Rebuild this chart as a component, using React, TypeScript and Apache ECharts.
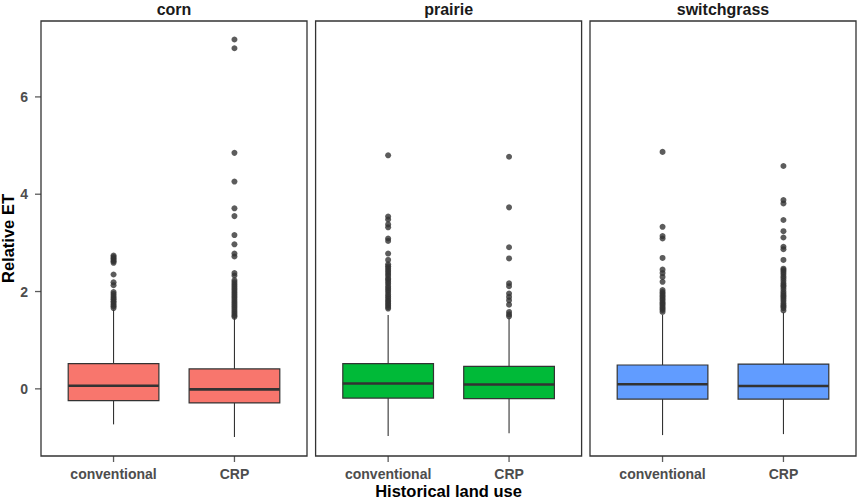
import React, { useEffect, useRef } from "react";
import * as echarts from "echarts";

const panels = ["corn", "prairie", "switchgrass"];
const categories = ["conventional", "CRP"];
const categoryPositions = [1, 2];
const panelColors = ["#F8766D", "#00BA38", "#619CFF"];
const yTicks = [0, 2, 4, 6];

// [lower whisker, Q1, median, Q3, upper whisker]
const cornBoxes = [
  [-0.73, -0.24, 0.065, 0.52, 1.63],
  [-0.99, -0.29, -0.01, 0.41, 1.47],
];
const prairieBoxes = [
  [-0.97, -0.19, 0.11, 0.52, 1.52],
  [-0.91, -0.2, 0.09, 0.46, 1.45],
];
const switchgrassBoxes = [
  [-0.95, -0.21, 0.095, 0.49, 1.52],
  [-0.93, -0.21, 0.06, 0.51, 1.57],
];

const cornConvOutliers = [2.74, 2.71, 2.68, 2.65, 2.62, 2.59, 2.35, 2.19, 2.13, 1.99, 1.95, 1.91, 1.87, 1.84, 1.8, 1.77, 1.73, 1.7, 1.66];
const cornCrpOutliers = [7.18, 7.0, 4.85, 4.26, 3.71, 3.55, 3.16, 2.97, 2.78, 2.72, 2.38, 2.33, 2.23, 2.19, 2.15, 2.11, 2.07, 2.03, 1.99, 1.95, 1.91, 1.87, 1.83, 1.79, 1.75, 1.71, 1.67, 1.63, 1.59, 1.55, 1.51, 1.48];
const prairieConvOutliers = [4.8, 3.54, 3.48, 3.38, 3.32, 3.09, 3.04, 2.78, 2.65, 2.56, 2.52, 2.48, 2.44, 2.4, 2.36, 2.32, 2.27, 2.24, 2.2, 2.16, 2.11, 2.07, 2.03, 1.99, 1.94, 1.9, 1.86, 1.82, 1.79, 1.75, 1.72, 1.68, 1.65];
const prairieCrpOutliers = [4.77, 3.73, 2.91, 2.68, 2.17, 2.11, 1.96, 1.89, 1.82, 1.73, 1.58, 1.53, 1.49];
const switchgrassConvOutliers = [4.87, 3.33, 3.14, 3.09, 2.69, 2.45, 2.38, 2.3, 2.2, 2.03, 1.99, 1.96, 1.92, 1.89, 1.85, 1.82, 1.78, 1.75, 1.72, 1.68, 1.65, 1.62, 1.58];
const switchgrassCrpOutliers = [4.58, 3.88, 3.81, 3.47, 3.24, 3.11, 2.92, 2.87, 2.65, 2.47, 2.44, 2.4, 2.36, 2.31, 2.27, 2.22, 2.17, 2.13, 2.1, 2.05, 2.0, 1.96, 1.92, 1.89, 1.85, 1.81, 1.76, 1.72, 1.69, 1.66, 1.61];

const FONT = "'Liberation Sans', Arial, Helvetica, sans-serif";
const Y_MIN = -1.38;
const Y_MAX = 7.56;
const X_MIN = 0.4;
const X_MAX = 2.6;

export default function App() {
  const ref = useRef<HTMLDivElement>(null);

  useEffect(() => {
    if (!ref.current) return;
    const chart = echarts.init(ref.current, null, { renderer: "svg" });

    const boxes = [cornBoxes, prairieBoxes, switchgrassBoxes];
    const outliers = [
      [cornConvOutliers, cornCrpOutliers],
      [prairieConvOutliers, prairieCrpOutliers],
      [switchgrassConvOutliers, switchgrassCrpOutliers],
    ];
    const lefts = [41, 315.6, 590];
    const W = 266;
    const TOP = 21;
    const H = 435;
    const TICK = 6;
    const labelStyle = {
      color: "#4D4D4D",
      fontWeight: "bold",
      fontSize: 14,
      fontFamily: FONT,
    };

    const grids = lefts.map((l) => ({
      left: l,
      top: TOP,
      width: W,
      height: H,
      show: true,
      borderColor: "#333333",
      borderWidth: 1.3,
      backgroundColor: "transparent",
      containLabel: false,
      outerBoundsMode: "none",
    }));

    const xAxes = panels.map((_, i) => ({
      type: "value",
      gridIndex: i,
      position: "bottom",
      min: X_MIN,
      max: X_MAX,
      splitLine: { show: false },
      axisLine: { show: false, onZero: false },
      axisTick: { show: false },
      axisLabel: {
        show: true,
        customValues: categoryPositions,
        margin: 11,
        formatter: (v: number) => categories[Math.round(v) - 1],
        ...labelStyle,
      },
    }));

    const yAxes = panels.map((_, i) => ({
      type: "value",
      gridIndex: i,
      position: "left",
      min: Y_MIN,
      max: Y_MAX,
      splitLine: { show: false },
      axisLine: { show: false, onZero: false },
      axisTick: { show: false },
      axisLabel: {
        show: i === 0,
        customValues: yTicks,
        margin: 13,
        ...labelStyle,
      },
      name: i === 0 ? "Relative ET" : "",
      nameLocation: "middle",
      nameGap: 24,
      nameRotate: 90,
      nameTextStyle: {
        color: "#000000",
        fontWeight: "bold",
        fontSize: 16.5,
        fontFamily: FONT,
      },
    }));

    const series: any[] = [];
    panels.forEach((_, i) => {
      const color = panelColors[i];
      series.push({
        type: "custom",
        xAxisIndex: i,
        yAxisIndex: i,
        encode: { x: 0, y: [1, 2, 3, 4, 5] },
        data: boxes[i].map((b, k) => [categoryPositions[k], ...b]),
        renderItem: (params: any, api: any) => {
          const x = api.value(0);
          const lo = api.coord([x, api.value(1)]);
          const q1 = api.coord([x, api.value(2)]);
          const md = api.coord([x, api.value(3)]);
          const q3 = api.coord([x, api.value(4)]);
          const hi = api.coord([x, api.value(5)]);
          const half = api.size([0.75, 0])[0] / 2;
          const ls = { stroke: "#333333", lineWidth: 1.1 };
          return {
            type: "group",
            children: [
              { type: "line", shape: { x1: lo[0], y1: lo[1], x2: q1[0], y2: q1[1] }, style: ls },
              { type: "line", shape: { x1: q3[0], y1: q3[1], x2: hi[0], y2: hi[1] }, style: ls },
              {
                type: "rect",
                shape: { x: q3[0] - half, y: q3[1], width: half * 2, height: q1[1] - q3[1] },
                style: { fill: color, stroke: "#333333", lineWidth: 1.2 },
              },
              {
                type: "line",
                shape: { x1: md[0] - half, y1: md[1], x2: md[0] + half, y2: md[1] },
                style: { stroke: "#333333", lineWidth: 2.6 },
              },
            ],
          };
        },
      });
      outliers[i].forEach((arr, k) => {
        series.push({
          type: "scatter",
          xAxisIndex: i,
          yAxisIndex: i,
          symbol: "circle",
          symbolSize: 6,
          itemStyle: { color: "#333333" },
          data: arr.map((v) => [categoryPositions[k], v]),
        });
      });
      // x-axis tick marks as thin rectangle symbols hanging below the panel
      series.push({
        type: "scatter",
        xAxisIndex: i,
        yAxisIndex: i,
        clip: false,
        silent: true,
        symbol: "rect",
        symbolSize: [1.3, TICK],
        symbolOffset: [0, TICK / 2],
        itemStyle: { color: "#333333" },
        data: categoryPositions.map((p) => [p, Y_MIN]),
      });
    });
    // y-axis tick marks left of the first panel
    series.push({
      type: "scatter",
      xAxisIndex: 0,
      yAxisIndex: 0,
      clip: false,
      silent: true,
      symbol: "rect",
      symbolSize: [TICK, 1.3],
      symbolOffset: [-TICK / 2, 0],
      itemStyle: { color: "#333333" },
      data: yTicks.map((v) => [X_MIN, v]),
    });

    const graphic: any[] = panels.map((p, i) => ({
      type: "text",
      x: lefts[i] + W / 2,
      y: 9,
      style: {
        text: p,
        align: "center",
        verticalAlign: "middle",
        fill: "#1A1A1A",
        font: `bold 16px ${FONT}`,
      },
    }));
    graphic.push({
      type: "text",
      x: (lefts[0] + lefts[2] + W) / 2,
      y: 491,
      style: {
        text: "Historical land use",
        align: "center",
        verticalAlign: "middle",
        fill: "#000000",
        font: `bold 16.5px ${FONT}`,
      },
    });

    chart.setOption({
      animation: false,
      backgroundColor: "#ffffff",
      grid: grids,
      xAxis: xAxes,
      yAxis: yAxes,
      series,
      graphic,
    } as any);

    return () => chart.dispose();
  }, []);

  return (
    <div
      ref={ref}
      style={{ position: "fixed", left: 0, top: 0, width: 858, height: 500, background: "#fff" }}
    />
  );
}
